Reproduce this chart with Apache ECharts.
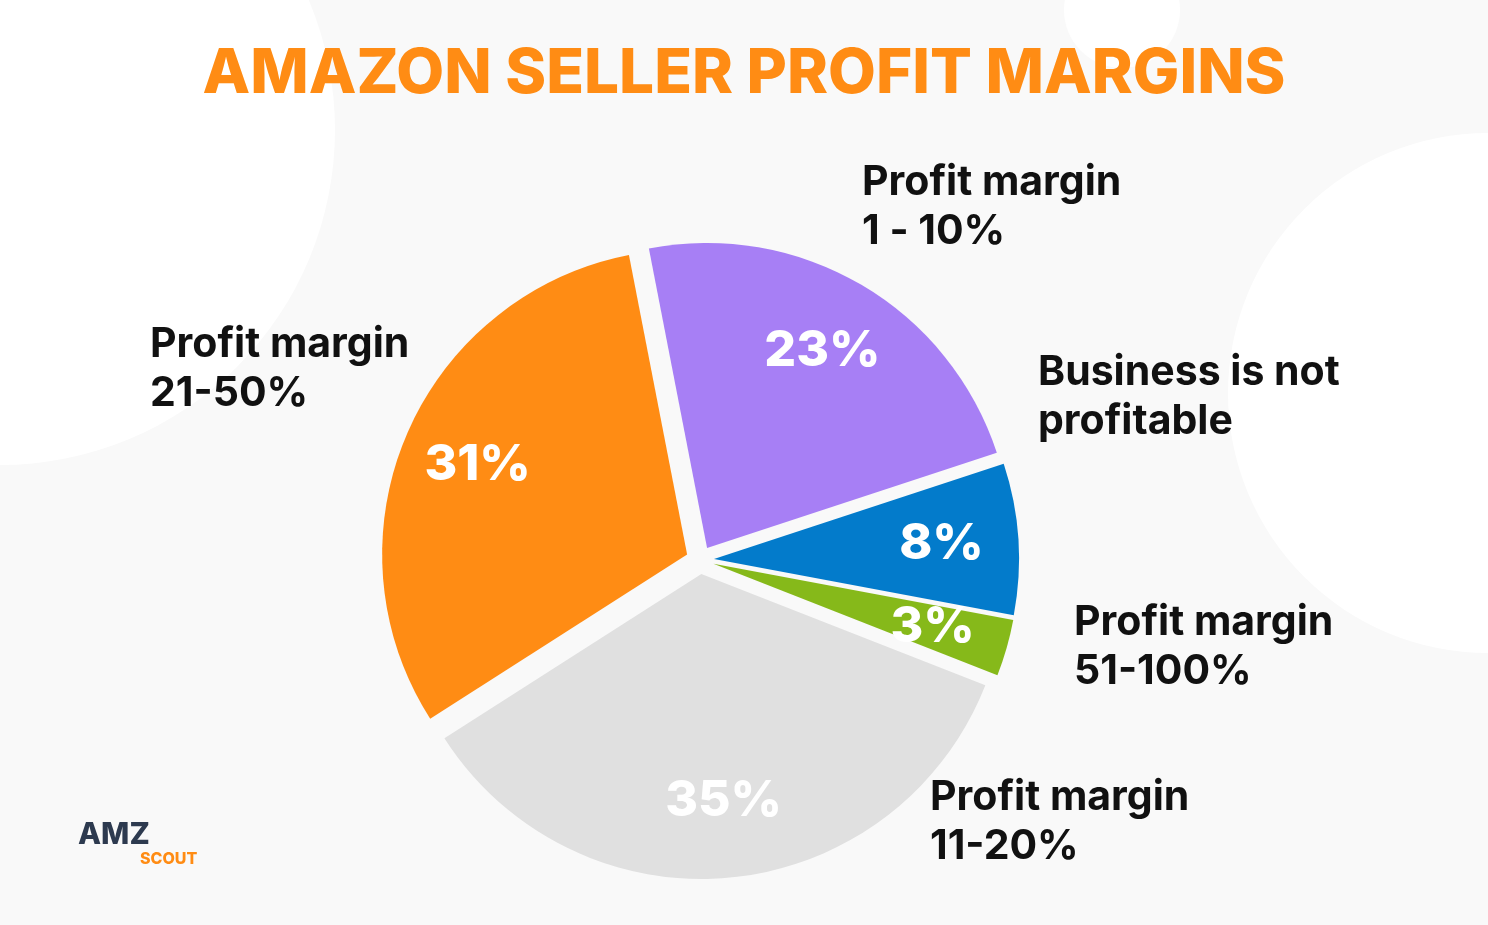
<!DOCTYPE html>
<html><head><meta charset="utf-8">
<script src="https://cdn.jsdelivr.net/npm/echarts@6/dist/echarts.min.js"></script>
<style>html,body{margin:0;padding:0;background:#f9f9f9}#c{width:1488px;height:925px}</style>
</head><body><div id="c"></div>
<script>
const categories = ['Profit margin\n1 - 10%', 'Business is not\nprofitable', 'Profit margin\n51-100%', 'Profit margin\n11-20%', 'Profit margin\n21-50%'];
const values = [23, 8, 3, 35, 31];
const colors = ['#A77FF5', '#037BCB', '#86B91A', '#E0E0E0', '#FF8C14'];
const namePos = [[862,208],[1038,398],[1074,648],[930,823],[150,370]];
const F = 'Inter, "Noto Sans", sans-serif';
const chart = echarts.init(document.getElementById('c'));
const data = categories.map((n,i)=>({name:n, value:values[i], itemStyle:{color:colors[i]}, selected:true}));
chart.setOption({
  backgroundColor:'#f9f9f9',
  title:{text:'AMAZON SELLER PROFIT MARGINS', left:'center', top:38,
    textStyle:{color:'#FF8C14', fontSize:62, fontWeight:800, fontFamily:F}},
  graphic:[
    {type:'circle', shape:{cx:0,cy:130,r:335}, style:{fill:'#ffffff'}, z:-10},
    {type:'circle', shape:{cx:1488,cy:393,r:260}, style:{fill:'#ffffff'}, z:-10},
    {type:'circle', shape:{cx:1122,cy:10,r:58}, style:{fill:'#ffffff'}, z:-10},
    ...categories.map((n,i)=>({type:'text', left:namePos[i][0], top:namePos[i][1]-50,
      style:{text:n, fill:'#111', font:'700 41px '+F, lineHeight:49}})),
    {type:'text', left:78, top:820, style:{text:'AMZ', fill:'#2d3a4f', font:'800 30px '+F}},
    {type:'text', left:140, top:851, style:{text:'SCOUT', fill:'#FF8C14', font:'800 16px '+F}}
  ],
  series:[
    {type:'pie', center:[700,560], radius:[0,305], startAngle:101, clockwise:true,
     selectedMode:'multiple', selectedOffset:14, silent:true, animation:false,
     label:{show:false}, labelLine:{show:false}, data:data, z:1},
    {type:'pie', center:[700,560], radius:[150,300], startAngle:101, clockwise:true,
     selectedMode:'multiple', selectedOffset:14, silent:true, animation:false, z:5,
     itemStyle:{color:'rgba(0,0,0,0)', borderWidth:0}, labelLine:{show:false},
     label:{show:true, position:'inside', formatter:'{c}%', color:'#fff', fontSize:50, fontWeight:800, fontFamily:F},
     data:categories.map((n,i)=>({name:n, value:values[i], selected:true}))}
  ]
});
</script></body></html>
